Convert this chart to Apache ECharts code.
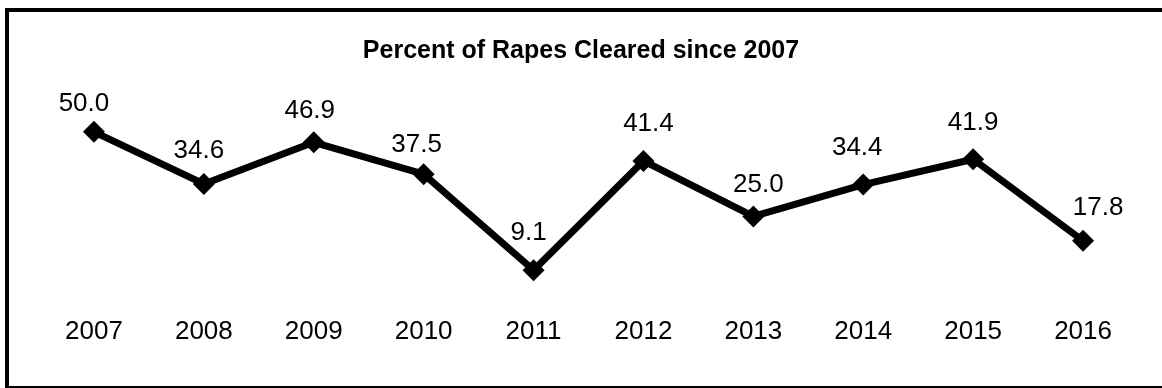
<!DOCTYPE html>
<html>
<head>
<meta charset="utf-8">
<script src="https://cdn.jsdelivr.net/npm/echarts@6/dist/echarts.min.js"></script>
<style>
html,body{margin:0;padding:0;background:#fff;}
#chart{width:1162px;height:388px;}
</style>
</head>
<body>
<div id="chart"></div>
<script>
var years = ['2007','2008','2009','2010','2011','2012','2013','2014','2015','2016'];
var cleared = [50.0, 34.6, 46.9, 37.5, 9.1, 41.4, 25.0, 34.4, 41.9, 17.8];
var titleText = 'Percent of Rapes Cleared since 2007';

// label nudges (styling only), [dx, dy] in px
var labelNudge = [[-10,5],[-5,0],[-4,2],[-7,4],[-5,-4],[5,-4],[5,1],[-6,-4],[0,-3],[15,0]];

var chart = echarts.init(document.getElementById('chart'), null, {renderer:'canvas'});
var font = '"Liberation Sans", Arial, sans-serif';
var seriesData = cleared.map(function(v, i){
  return {value: v, label: {offset: labelNudge[i]}};
});
chart.setOption({
  backgroundColor: '#fff',
  animation: false,
  title: {
    text: titleText,
    left: 'center',
    top: 34,
    textStyle: {fontFamily: font, fontSize: 25, fontWeight: 'bold', color: '#000'}
  },
  graphic: [{
    type: 'rect',
    shape: {x: 7, y: 10, width: 1200, height: 378},
    style: {fill: 'none', stroke: '#000', lineWidth: 4},
    silent: true
  }],
  grid: {left: 39, right: 24, top: 98, bottom: 87},
  xAxis: {
    type: 'category',
    data: years,
    boundaryGap: true,
    axisLine: {show: false},
    axisTick: {show: false},
    axisLabel: {margin: 18, fontFamily: font, fontSize: 26, color: '#000'}
  },
  yAxis: {
    type: 'value',
    min: 0, max: 60,
    show: false,
    splitLine: {show: false}
  },
  series: [{
    type: 'line',
    data: seriesData,
    symbol: 'diamond',
    symbolSize: 22,
    lineStyle: {color: '#000', width: 7},
    itemStyle: {color: '#000'},
    label: {
      show: true,
      position: 'top',
      distance: 9,
      formatter: function(p){ return p.value.toFixed(1); },
      fontFamily: font, fontSize: 26, color: '#000'
    }
  }]
});
</script>
</body>
</html>
